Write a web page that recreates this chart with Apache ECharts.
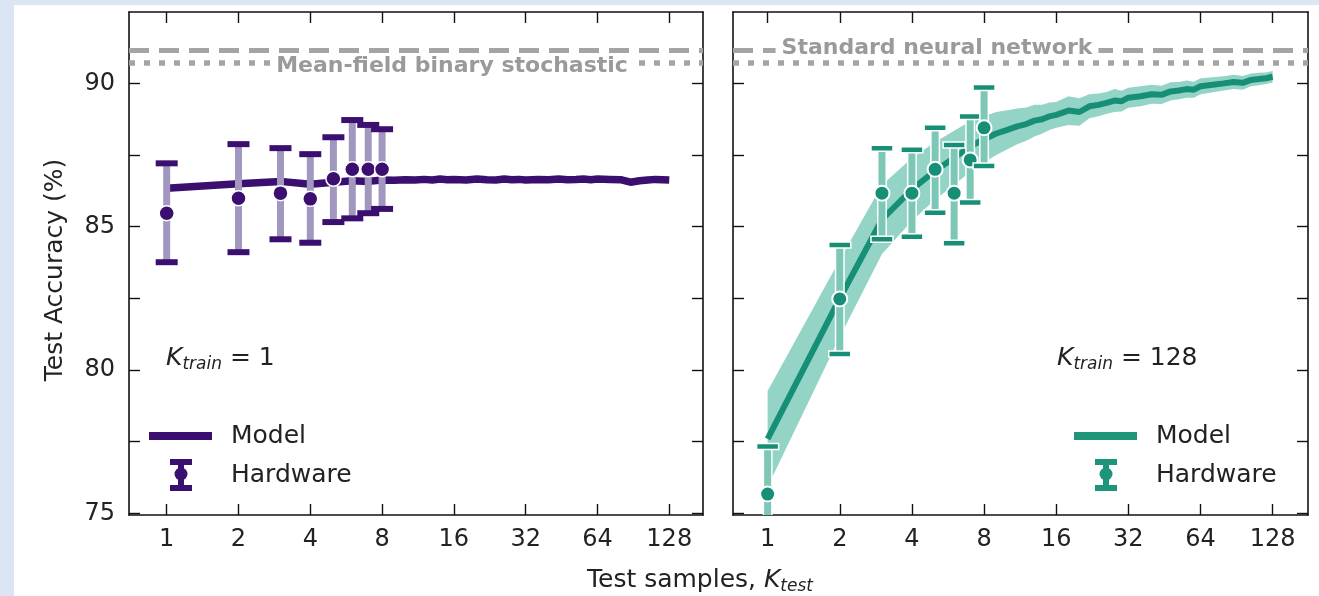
<!DOCTYPE html>
<html>
<head>
<meta charset="utf-8">
<script src="https://cdn.jsdelivr.net/npm/echarts@6/dist/echarts.min.js"></script>
<style>
  html, body { margin: 0; padding: 0; width: 1319px; height: 596px; overflow: hidden; background: #dce5f4; }
  #paper { position: absolute; left: 14px; top: 5px; right: 0; bottom: 0; background: #ffffff; }
  #chart { position: absolute; left: 0; top: 0; width: 1319px; height: 596px; }
</style>
</head>
<body>
<div id="paper"></div>
<div id="chart"></div>
<script>
// ---- Axis ticks ----
const kTicks = [1, 2, 4, 8, 16, 32, 64, 128];
const kTickLabels = ['1', '2', '4', '8', '16', '32', '64', '128'];
const accTicks = [75, 77.5, 80, 82.5, 85, 87.5, 90, 92.5];
const accLabelTicks = [75, 80, 85, 90];

// ---- Model curves (test accuracy vs K_test) ----
const modelK = [1, 2, 3, 4, 5, 6, 7, 8, 9, 10, 11, 12, 13, 14, 15, 16, 18, 20, 22, 24,
  26, 28, 30, 32, 36, 40, 44, 48, 52, 56, 60, 64, 72, 80, 88, 96, 104, 112, 120, 128];
// K_train = 1
const modelAccTrain1 = [86.34, 86.50, 86.58, 86.48, 86.55, 86.60, 86.58, 86.63, 86.62, 86.64,
  86.63, 86.65, 86.63, 86.66, 86.64, 86.65, 86.63, 86.66, 86.64, 86.63,
  86.66, 86.64, 86.65, 86.63, 86.65, 86.64, 86.66, 86.64, 86.65, 86.66,
  86.64, 86.66, 86.65, 86.64, 86.55, 86.60, 86.63, 86.65, 86.64, 86.63];
// K_train = 128
const modelAccTrain128 = [77.60, 82.50, 85.25, 86.30, 86.95, 87.40, 87.80, 88.05, 88.25, 88.38,
  88.50, 88.58, 88.70, 88.75, 88.85, 88.90, 89.05, 89.00, 89.20, 89.25,
  89.32, 89.40, 89.38, 89.50, 89.55, 89.62, 89.60, 89.72, 89.75, 89.80,
  89.78, 89.90, 89.95, 90.00, 90.05, 90.02, 90.12, 90.15, 90.18, 90.23];
const bandLowTrain128 = [75.93, 81.15, 84.05, 85.20, 85.95, 86.45, 86.92, 87.25, 87.50, 87.70,
  87.88, 88.00, 88.15, 88.25, 88.37, 88.45, 88.55, 88.52, 88.78, 88.85,
  88.94, 89.00, 89.02, 89.15, 89.20, 89.29, 89.28, 89.40, 89.45, 89.50,
  89.50, 89.62, 89.69, 89.75, 89.80, 89.78, 89.90, 89.93, 89.98, 90.03];
const bandHighTrain128 = [79.27, 83.85, 86.45, 87.40, 87.95, 88.35, 88.68, 88.85, 89.00, 89.06,
  89.12, 89.16, 89.25, 89.25, 89.33, 89.35, 89.55, 89.48, 89.62, 89.65,
  89.70, 89.80, 89.74, 89.85, 89.90, 89.95, 89.92, 90.04, 90.05, 90.10,
  90.06, 90.18, 90.21, 90.25, 90.30, 90.26, 90.34, 90.37, 90.38, 90.43];

// ---- Hardware measurements (mean and error range) ----
const hwK = [1, 2, 3, 4, 5, 6, 7, 8];
const hwMeanTrain1 = [85.47, 85.99, 86.17, 85.97, 86.67, 87.00, 87.00, 87.00];
const hwLowTrain1 = [83.76, 84.11, 84.56, 84.44, 85.16, 85.29, 85.47, 85.62];
const hwHighTrain1 = [87.21, 87.88, 87.74, 87.53, 88.12, 88.72, 88.55, 88.40];
const hwMeanTrain128 = [75.67, 82.48, 86.17, 86.17, 87.00, 86.17, 87.33, 88.45];
const hwLowTrain128 = [74.00, 80.56, 84.56, 84.65, 85.49, 84.42, 85.84, 87.12];
const hwHighTrain128 = [77.33, 84.36, 87.74, 87.68, 88.45, 87.85, 88.84, 89.86];

// ---- Reference accuracies ----
const refStandardNN = 91.16;
const refMeanField = 90.71;

// ---- Styling ----
const FONT = 'DejaVu Sans';
const PURPLE = '#3b0f6f';
const PURPLE_LIGHT = '#a297bf';
const TEAL = '#178f77';
const TEAL_LIGHT = '#7cc7b6';
const TEAL_BAND = '#93d4c6';
const REF_GRAY = '#a4a4a4';

const Y_MIN = 74.94, Y_MAX = 92.49;

function xAxisCfg(gridIndex, position, min, max, showLabels) {
  return {
    type: 'value', gridIndex, position, min, max,
    axisLine: { show: true, onZero: false, lineStyle: { color: '#111', width: 1.6 } },
    axisTick: { show: true, inside: true, length: 11, customValues: kTicks.map(Math.log2),
      lineStyle: { color: '#111', width: 1.4 } },
    axisLabel: { show: showLabels, customValues: kTicks.map(Math.log2),
      formatter: v => kTickLabels[Math.round(v)],
      margin: 13, fontSize: 24, fontFamily: FONT, color: '#222' },
    splitLine: { show: false }
  };
}
function yAxisCfg(gridIndex, position, showLabels) {
  return {
    type: 'value', gridIndex, position, min: Y_MIN, max: Y_MAX,
    axisLine: { show: true, onZero: false, lineStyle: { color: '#111', width: 1.6 } },
    axisTick: { show: true, inside: true, length: 11, customValues: accTicks,
      lineStyle: { color: '#111', width: 1.4 } },
    axisLabel: { show: showLabels, customValues: accLabelTicks,
      margin: 14, fontSize: 24, fontFamily: FONT, color: '#222' },
    splitLine: { show: false }
  };
}

function errorBarRenderer(c) {
  return function (params, api) {
    const x = api.value(0);
    const pM = api.coord([x, api.value(1)]);
    const pL = api.coord([x, api.value(2)]);
    const pH = api.coord([x, api.value(3)]);
    const capW = 22, capH = 6;
    return {
      type: 'group',
      children: [
        { type: 'line', shape: { x1: pL[0], y1: pL[1], x2: pH[0], y2: pH[1] },
          style: { stroke: '#ffffff', lineWidth: c.edge ? 10 : 0 } },
        { type: 'line', shape: { x1: pL[0], y1: pL[1], x2: pH[0], y2: pH[1] },
          style: { stroke: c.whisker, lineWidth: 7 } },
        { type: 'rect', shape: { x: pH[0] - capW / 2, y: pH[1] - capH / 2, width: capW, height: capH },
          style: { fill: c.main, stroke: c.edge ? '#ffffff' : c.main, lineWidth: c.edge ? 1.5 : 0 } },
        { type: 'rect', shape: { x: pL[0] - capW / 2, y: pL[1] - capH / 2, width: capW, height: capH },
          style: { fill: c.main, stroke: c.edge ? '#ffffff' : c.main, lineWidth: c.edge ? 1.5 : 0 } },
        { type: 'circle', shape: { cx: pM[0], cy: pM[1], r: 7.5 },
          style: { fill: c.main, stroke: '#ffffff', lineWidth: c.edge ? 2 : 1.5 } }
      ]
    };
  };
}

function bandRenderer(ks, lo, hi, color) {
  return function (params, api) {
    if (params.dataIndex !== 0) return null;
    const pts = [];
    for (let i = 0; i < ks.length; i++) pts.push(api.coord([Math.log2(ks[i]), hi[i]]));
    for (let i = ks.length - 1; i >= 0; i--) pts.push(api.coord([Math.log2(ks[i]), lo[i]]));
    return { type: 'polygon', shape: { points: pts }, style: { fill: color } };
  };
}

function refLines() {
  return {
    silent: true, symbol: ['none', 'none'], animation: false,
    label: { show: false },
    lineStyle: { color: REF_GRAY, width: 5, cap: 'butt' },
    data: [
      { yAxis: refStandardNN, lineStyle: { type: [20, 10], color: REF_GRAY, width: 5 } },
      { yAxis: refMeanField, lineStyle: { type: [6, 9], color: REF_GRAY, width: 5.5 } }
    ]
  };
}

const series = [
  // K_train = 1 panel
  { type: 'line', name: 'Model', xAxisIndex: 0, yAxisIndex: 0, z: 2,
    data: modelK.map((k, i) => [Math.log2(k), modelAccTrain1[i]]),
    showSymbol: false, symbol: 'none', lineStyle: { color: PURPLE, width: 7.5 },
    markLine: refLines() },
  { type: 'custom', name: 'Hardware', xAxisIndex: 0, yAxisIndex: 0, z: 4, clip: true,
    encode: { x: 0, y: [1, 2, 3] },
    data: hwK.map((k, i) => [Math.log2(k), hwMeanTrain1[i], hwLowTrain1[i], hwHighTrain1[i]]),
    renderItem: errorBarRenderer({ main: PURPLE, whisker: PURPLE_LIGHT, edge: false }) },
  // K_train = 128 panel
  { type: 'custom', name: 'Model spread', xAxisIndex: 2, yAxisIndex: 2, z: 1, clip: true,
    encode: { x: 0, y: [1, 2] },
    data: modelK.map((k, i) => [Math.log2(k), bandLowTrain128[i], bandHighTrain128[i]]),
    renderItem: bandRenderer(modelK, bandLowTrain128, bandHighTrain128, TEAL_BAND) },
  { type: 'line', name: 'Model', xAxisIndex: 2, yAxisIndex: 2, z: 2,
    data: modelK.map((k, i) => [Math.log2(k), modelAccTrain128[i]]),
    showSymbol: false, symbol: 'none', lineStyle: { color: TEAL, width: 6 },
    markLine: refLines() },
  { type: 'custom', name: 'Hardware', xAxisIndex: 2, yAxisIndex: 2, z: 4, clip: true,
    encode: { x: 0, y: [1, 2, 3] },
    data: hwK.map((k, i) => [Math.log2(k), hwMeanTrain128[i], hwLowTrain128[i], hwHighTrain128[i]]),
    renderItem: errorBarRenderer({ main: TEAL, whisker: TEAL_LIGHT, edge: true }) }
];

function legendBlock(x0, color, whisker) {
  return [
    { type: 'rect', shape: { x: x0, y: 432, width: 63, height: 8 }, style: { fill: color } },
    { type: 'text', x: x0 + 82, y: 436, style: { text: 'Model', font: '25px "DejaVu Sans"', fill: '#222',
      textAlign: 'left', textVerticalAlign: 'middle' } },
    { type: 'line', shape: { x1: x0 + 32, y1: 462, x2: x0 + 32, y2: 488 }, style: { stroke: whisker, lineWidth: 6 } },
    { type: 'rect', shape: { x: x0 + 21, y: 459, width: 22, height: 6 }, style: { fill: color } },
    { type: 'rect', shape: { x: x0 + 21, y: 485, width: 22, height: 6 }, style: { fill: color } },
    { type: 'circle', shape: { cx: x0 + 32, cy: 474, r: 6.5 }, style: { fill: color } },
    { type: 'text', x: x0 + 82, y: 475, style: { text: 'Hardware', font: '25px "DejaVu Sans"', fill: '#222',
      textAlign: 'left', textVerticalAlign: 'middle' } }
  ];
}

function kTrainText(x, value) {
  return { type: 'text', x: x, y: 358, z: 10,
    style: { text: '{k|K}{s|train}{n| = ' + value + '}', textAlign: 'left', textVerticalAlign: 'middle',
      rich: {
        k: { fontFamily: FONT, fontStyle: 'italic', fontSize: 25, lineHeight: 30, fill: '#222' },
        s: { fontFamily: FONT, fontStyle: 'italic', fontSize: 17, lineHeight: 14, verticalAlign: 'bottom', fill: '#222' },
        n: { fontFamily: FONT, fontSize: 25, lineHeight: 30, fill: '#222' }
      } } };
}

const refLabelStyle = {
  font: 'bold 22px "DejaVu Sans"', fill: '#9a9a9a', textAlign: 'center', textVerticalAlign: 'middle',
  backgroundColor: '#ffffff', padding: [0, 6, 0, 6]
};

const graphic = [
  { type: 'text', x: 452, y: 66, z: 10, style: Object.assign({ text: 'Mean-field binary stochastic' }, refLabelStyle) },
  { type: 'text', x: 937, y: 48, z: 10, style: Object.assign({ text: 'Standard neural network' }, refLabelStyle) },
  kTrainText(166, '1'),
  kTrainText(1057, '128'),
  { type: 'group', z: 10, children: legendBlock(149, PURPLE, PURPLE) },
  { type: 'group', z: 10, children: legendBlock(1074, '#1e9479', '#1e9479') },
  // axis titles
  { type: 'text', x: 55, y: 270, rotation: Math.PI / 2, z: 10,
    style: { text: 'Test Accuracy (%)', font: '25px "DejaVu Sans"', fill: '#222',
      textAlign: 'center', textVerticalAlign: 'middle' } },
  { type: 'text', x: 700, y: 580, z: 10,
    style: { text: '{t|Test samples, }{k|K}{s|test}', textAlign: 'center', textVerticalAlign: 'middle',
      rich: {
        t: { fontFamily: FONT, fontSize: 25, lineHeight: 30, fill: '#222' },
        k: { fontFamily: FONT, fontStyle: 'italic', fontSize: 25, lineHeight: 30, fill: '#222' },
        s: { fontFamily: FONT, fontStyle: 'italic', fontSize: 17, lineHeight: 14, verticalAlign: 'bottom', fill: '#222' }
      } } }
];

const chart = echarts.init(document.getElementById('chart'), null, { renderer: 'canvas' });
chart.setOption({
  animation: false,
  backgroundColor: 'transparent',
  grid: [
    { left: 129, top: 12, width: 574, height: 503 },
    { left: 733, top: 12, width: 575, height: 503 }
  ],
  xAxis: [
    xAxisCfg(0, 'bottom', -0.525, 7.47, true),
    xAxisCfg(0, 'top', -0.525, 7.47, false),
    xAxisCfg(1, 'bottom', -0.48, 7.49, true),
    xAxisCfg(1, 'top', -0.48, 7.49, false)
  ],
  yAxis: [
    yAxisCfg(0, 'left', true),
    yAxisCfg(0, 'right', false),
    yAxisCfg(1, 'left', false),
    yAxisCfg(1, 'right', false)
  ],
  series: series,
  graphic: graphic
});
</script>
</body>
</html>
